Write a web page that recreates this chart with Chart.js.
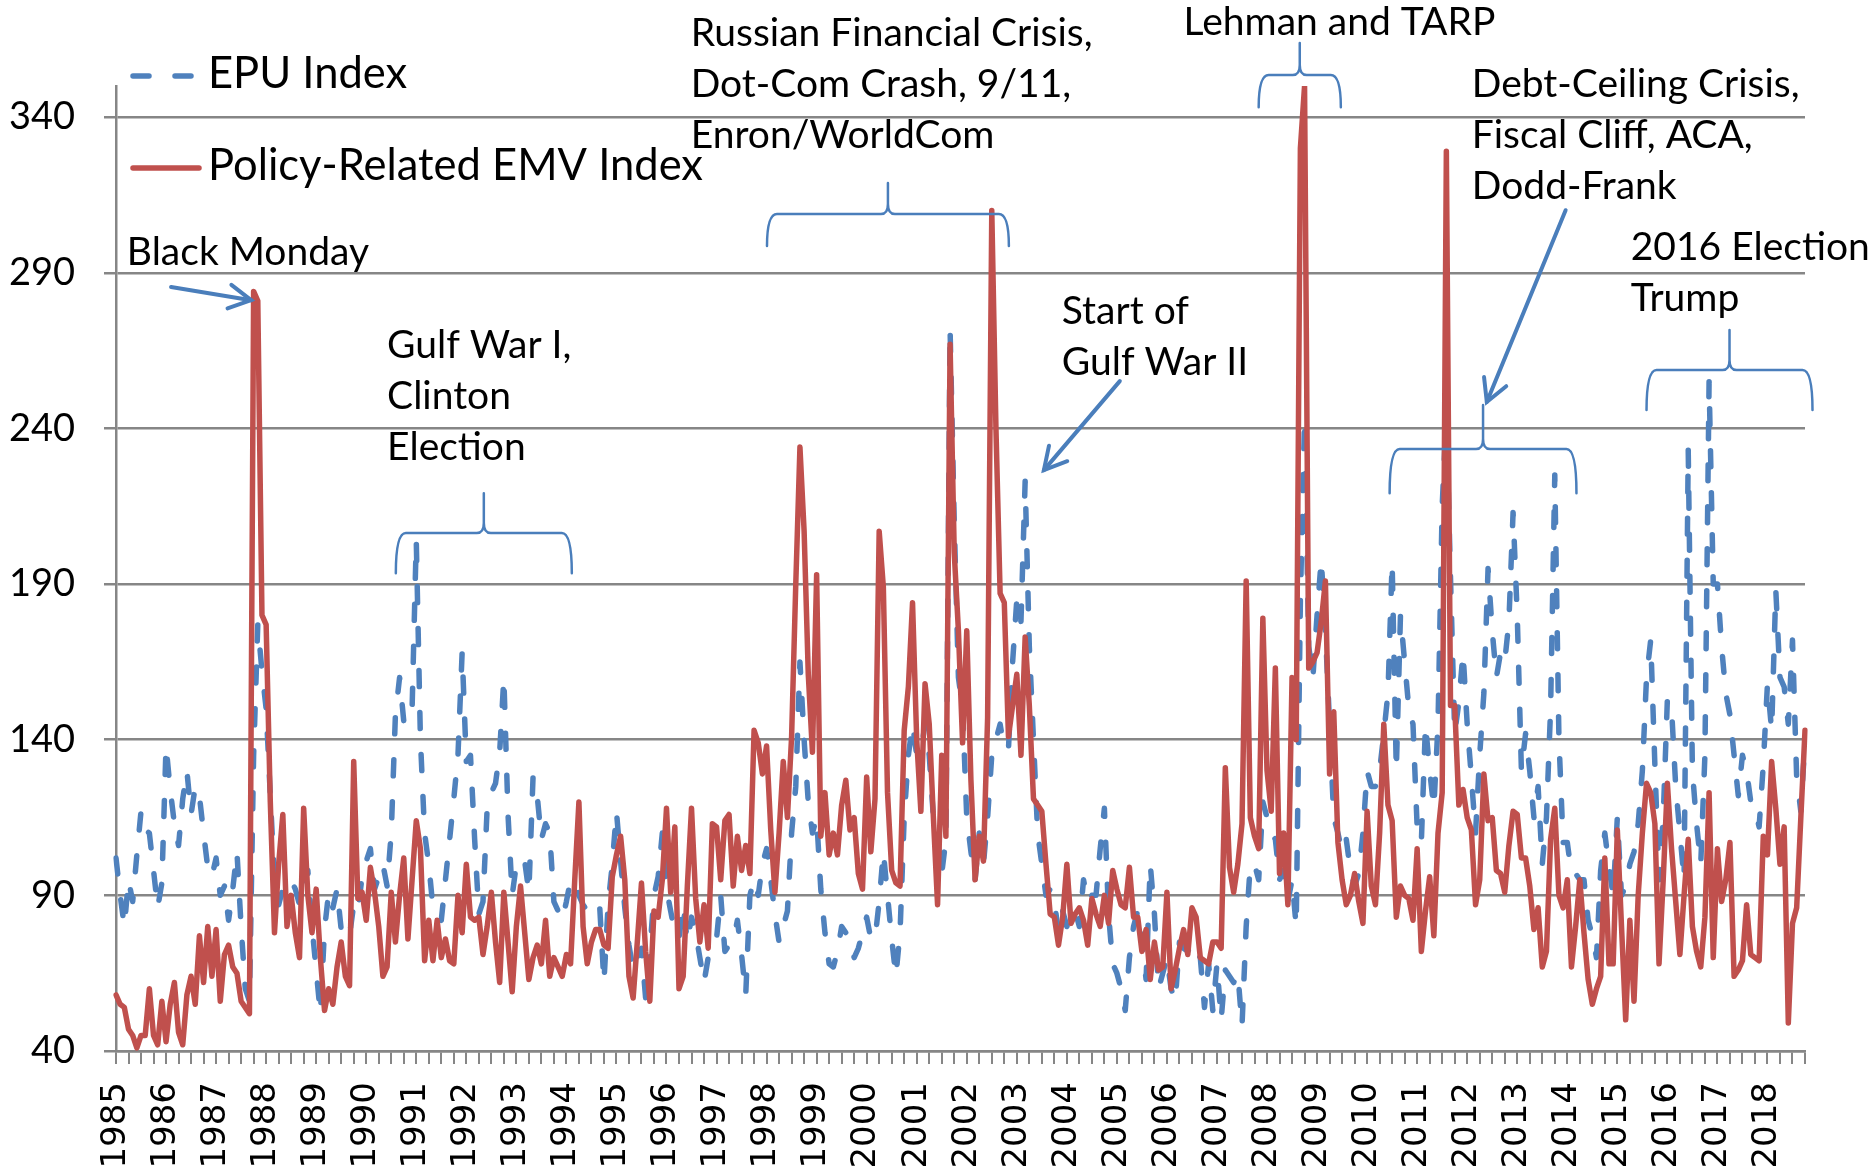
<!DOCTYPE html>
<html lang="en">
<head>
<meta charset="UTF-8">
<title>EPU Index and Policy-Related EMV Index</title>
<script src="https://cdn.jsdelivr.net/npm/chart.js@4.4.0/dist/chart.umd.min.js"></script>
<style>
  body { margin: 0; background: #fff; }
  canvas { display: block; }
</style>
</head>
<body>
<canvas id="chart" width="1868" height="1166"></canvas>
<script>
// monthly data, Jan 1985 .. Oct 2018
const years = [1985, 1986, 1987, 1988, 1989, 1990, 1991, 1992, 1993, 1994, 1995, 1996,
  1997, 1998, 1999, 2000, 2001, 2002, 2003, 2004, 2005, 2006, 2007, 2008, 2009, 2010,
  2011, 2012, 2013, 2014, 2015, 2016, 2017, 2018];
const lastMonth = 10;
const yTicks = [40, 90, 140, 190, 240, 290, 340];

const epu = [
  102, 90, 80, 95, 88, 103, 117, 111, 110, 98, 86, 94,
  138, 124, 113, 106, 121, 130, 116, 125, 122, 110, 99, 96,
  102, 90, 93, 82, 92, 104, 80, 60, 56, 135, 177, 162,
  150, 122, 95, 87, 92, 92, 95, 92, 87, 97, 98, 80,
  66, 52, 79, 91, 86, 92, 79, 80, 77, 87, 85, 96,
  101, 105, 92, 96, 100, 93, 110, 148, 160, 146, 145, 150,
  204, 140, 110, 100, 86, 84, 82, 95, 108, 121, 135, 168,
  133, 135, 108, 84, 88, 118, 123, 126, 136, 160, 116, 90,
  100, 102, 101, 91, 128, 122, 108, 113, 110, 88, 85, 82,
  88, 95, 94, 90, 87, 85, 87, 88, 86, 62, 87, 100,
  117, 101, 86, 74, 66, 70, 73, 57, 72, 90, 96, 110,
  92, 85, 78, 76, 87, 75, 83, 78, 70, 62, 70, 73,
  76, 90, 72, 74, 75, 82, 71, 58, 90, 95, 90, 100,
  105, 95, 84, 75, 80, 85, 110, 125, 165, 140, 120, 110,
  115, 92, 78, 68, 67, 72, 80, 78, 75, 70, 73, 78,
  83, 76, 76, 88, 104, 90, 76, 64, 78, 115, 135, 145,
  135, 136, 145, 135, 115, 108, 97, 108, 272, 210, 160, 150,
  115, 104, 95, 110, 100, 115, 135, 140, 145, 137, 137, 165,
  185, 178, 223, 170, 140, 110, 100, 90, 92, 88, 78, 85,
  80, 82, 85, 80, 95, 88, 90, 90, 105, 118, 84, 68,
  65, 60, 53, 70, 80, 85, 75, 63, 100, 84, 60, 65,
  70, 60, 56, 75, 73, 72, 75, 72, 70, 54, 68, 53,
  68, 50, 66, 64, 62, 65, 48, 80, 100, 100, 95, 120,
  115, 110, 108, 95, 98, 88, 95, 80, 185, 243, 170, 160,
  180, 198, 175, 145, 115, 110, 104, 108, 98, 93, 97, 110,
  130, 125, 125, 130, 142, 155, 197, 130, 180, 165, 150, 145,
  112, 107, 145, 130, 118, 145, 215, 245, 192, 142, 152, 168,
  145, 128, 110, 135, 155, 195, 175, 160, 168, 165, 178, 213,
  180, 130, 142, 130, 115, 125, 100, 115, 150, 225, 140, 107,
  107, 97, 97, 95, 95, 82, 77, 70, 98, 110, 99, 90,
  115, 90, 93, 100, 104, 113, 130, 160, 172, 132, 95, 115,
  153, 150, 125, 110, 95, 233, 130, 113, 100, 135, 255, 190,
  190, 170, 155, 148, 135, 122, 135, 130, 120, 118, 112, 132,
  158, 143, 188, 160, 157, 145, 172, 128, 117, 140
];

const emv = [
  58, 55, 54, 47, 45, 41, 45, 45, 60, 45, 42, 56,
  43, 55, 62, 46, 42, 58, 64, 55, 77, 62, 80, 64,
  79, 56, 71, 74, 67, 65, 56, 54, 52, 284, 281, 180,
  177, 120, 78, 100, 116, 80, 90, 78, 70, 118, 90, 78,
  92, 70, 53, 60, 55, 67, 75, 64, 61, 133, 89, 91,
  82, 99, 91, 80, 64, 67, 91, 75, 90, 102, 76, 95,
  114, 105, 69, 82, 69, 82, 70, 76, 69, 68, 90, 78,
  100, 83, 82, 83, 71, 80, 91, 75, 62, 91, 75, 59,
  80, 93, 78, 63, 70, 74, 68, 82, 64, 70, 67, 64,
  71, 68, 95, 120, 80, 68, 75, 79, 79, 74, 73, 96,
  103, 109, 95, 64, 57, 75, 94, 72, 56, 85, 83, 95,
  118, 91, 112, 60, 64, 93, 118, 89, 75, 87, 73, 113,
  112, 95, 114, 116, 93, 109, 98, 106, 97, 143, 139, 129,
  138, 111, 91, 110, 133, 115, 141, 190, 234, 207, 161, 136,
  193, 109, 123, 103, 110, 103, 119, 127, 111, 115, 97, 92,
  128, 104, 121, 207, 189, 123, 98, 94, 93, 143, 157, 184,
  140, 117, 158, 145, 115, 87, 135, 109, 267, 200, 175, 139,
  175, 127, 95, 109, 101, 147, 310, 240, 187, 184, 141, 151,
  161, 135, 173, 151, 121, 119, 117, 100, 84, 83, 74, 83,
  100, 81, 84, 86, 82, 74, 89, 84, 80, 90, 81, 98,
  92, 87, 86, 99, 83, 83, 72, 79, 63, 75, 66, 67,
  91, 60, 66, 73, 79, 71, 86, 83, 70, 69, 68, 75,
  75, 73, 131, 99, 91, 100, 113, 191, 115, 109, 105, 179,
  130, 117, 163, 97, 110, 87, 160, 140, 330, 350, 163, 165,
  168, 178, 191, 129, 149, 107, 95, 87, 90, 97, 88, 81,
  117, 93, 87, 110, 145, 119, 114, 83, 93, 90, 89, 82,
  105, 72, 85, 96, 77, 110, 123, 329, 151, 151, 119, 124,
  115, 111, 87, 95, 129, 114, 115, 98, 97, 91, 106, 117,
  116, 102, 102, 93, 79, 86, 67, 72, 108, 118, 90, 86,
  95, 67, 80, 95, 78, 63, 55, 60, 64, 102, 68, 68,
  111, 80, 50, 82, 56, 90, 110, 126, 123, 113, 68, 95,
  126, 105, 88, 71, 90, 108, 80, 72, 67, 83, 123, 70,
  105, 88, 95, 107, 64, 66, 69, 87, 71, 70, 69, 109,
  103, 133, 118, 100, 112, 49, 81, 86, 115, 143
];

// annotations, placed in data units: [month index, index value]
const notes = [
  { lines: ['Black Monday'], at: [2.6, 292.5] },
  { lines: ['Gulf War I,', 'Clinton', 'Election'], at: [65, 262.6] },
  { lines: ['Russian Financial Crisis,', 'Dot-Com Crash, 9/11,', 'Enron/WorldCom'], at: [137.8, 362.8] },
  { lines: ['Lehman and TARP'], at: [256, 366.4] },
  { lines: ['Start of', 'Gulf War II'], at: [226.8, 273.5] },
  { lines: ['Debt-Ceiling Crisis,', 'Fiscal Cliff, ACA,', 'Dodd-Frank'], at: [325.1, 346.5] },
  { lines: ['2016 Election,', 'Trump'], at: [363.2, 294.1] }
];
const arrows = [
  { from: [13.2, 285.4], to: [32.4, 281.2] },
  { from: [240.7, 255.2], to: [222.5, 226.6] },
  { from: [347.6, 310.1], to: [328.7, 248.5] }
];
const braces = [
  { from: 67.1, to: 109.3, bar: 206.4, tip: 219.2, end: 193.5 },
  { from: 156.1, to: 214.1, bar: 308.9, tip: 318.8, end: 298.6 },
  { from: 274.0, to: 293.7, bar: 353.5, tip: 363.8, end: 343.2 },
  { from: 305.4, to: 350.2, bar: 233.4, tip: 247.5, end: 219.2 },
  { from: 367.0, to: 406.8, bar: 258.8, tip: 271.6, end: 245.9 }
];

const months = [];
years.forEach(yr => {
  for (let mo = 1; mo <= 12; mo++) {
    if (yr < years[years.length - 1] || mo <= lastMonth) months.push(yr + '-' + mo);
  }
});

const BLUE = '#4f81bd', RED = '#c0504d', NOTE = '#4a7ebb', GRID = '#868686';

const notesPlugin = {
  id: 'notes',
  afterDraw(chart) {
    const { ctx, chartArea: ca, scales: { x, y } } = chart;
    const px = m => x.getPixelForValue(m);
    const py = v => y.getPixelForValue(v);
    ctx.save();

    // braces
    ctx.strokeStyle = NOTE;
    ctx.lineWidth = 2.5;
    ctx.lineCap = 'round';
    braces.forEach(b => {
      const x0 = px(b.from), x1 = px(b.to), xc = (x0 + x1) / 2;
      const yh = py(b.bar), yt = py(b.tip), ye = py(b.end);
      ctx.beginPath();
      ctx.moveTo(x0, ye);
      ctx.quadraticCurveTo(x0, yh, x0 + 10, yh);
      ctx.lineTo(xc - 7, yh);
      ctx.quadraticCurveTo(xc, yh, xc, yh - 10);
      ctx.lineTo(xc, yt);
      ctx.moveTo(xc, yh - 10);
      ctx.quadraticCurveTo(xc, yh, xc + 7, yh);
      ctx.lineTo(x1 - 10, yh);
      ctx.quadraticCurveTo(x1, yh, x1, ye);
      ctx.stroke();
    });

    // arrows
    ctx.lineWidth = 4;
    ctx.lineJoin = 'miter';
    arrows.forEach(a => {
      const x0 = px(a.from[0]), y0 = py(a.from[1]);
      const x1 = px(a.to[0]), y1 = py(a.to[1]);
      const ang = Math.atan2(y1 - y0, x1 - x0);
      ctx.beginPath();
      ctx.moveTo(x0, y0);
      ctx.lineTo(x1, y1);
      ctx.stroke();
      ctx.beginPath();
      ctx.moveTo(x1 - 25 * Math.cos(ang - 0.5), y1 - 25 * Math.sin(ang - 0.5));
      ctx.lineTo(x1, y1);
      ctx.lineTo(x1 - 25 * Math.cos(ang + 0.5), y1 - 25 * Math.sin(ang + 0.5));
      ctx.stroke();
    });

    // texts
    ctx.fillStyle = '#000';
    ctx.font = '39px Lato';
    ctx.textBaseline = 'alphabetic';
    ctx.textAlign = 'left';
    notes.forEach(n => {
      const tx = px(n.at[0]), ty = py(n.at[1]);
      n.lines.forEach((t, i) => ctx.fillText(t, tx, ty + i * 51));
    });

    // legend (sits inside the plot, top left)
    const lx = ca.left + 17;
    ctx.lineWidth = 5.5;
    ctx.lineCap = 'round';
    ctx.strokeStyle = BLUE;
    ctx.setLineDash([16, 26]);
    ctx.beginPath();
    ctx.moveTo(lx, ca.top - 10);
    ctx.lineTo(lx + 65, ca.top - 10);
    ctx.stroke();
    ctx.setLineDash([]);
    ctx.strokeStyle = RED;
    ctx.beginPath();
    ctx.moveTo(lx, ca.top + 82);
    ctx.lineTo(lx + 66, ca.top + 82);
    ctx.stroke();
    ctx.font = '43.5px Lato';
    ctx.fillText('EPU Index', lx + 75, ca.top + 2);
    ctx.fillText('Policy-Related EMV Index', lx + 75, ca.top + 94);
    ctx.restore();
  }
};

new Chart(document.getElementById('chart'), {
  type: 'line',
  data: {
    labels: months,
    datasets: [{
      label: 'EPU Index',
      data: epu,
      borderColor: BLUE,
      borderWidth: 5.5,
      borderDash: [16, 26],
      borderCapStyle: 'round',
      borderJoinStyle: 'round',
      pointRadius: 0,
      tension: 0,
      order: 1
    }, {
      label: 'Policy-Related EMV Index',
      data: emv,
      borderColor: RED,
      borderWidth: 5.5,
      borderCapStyle: 'round',
      borderJoinStyle: 'round',
      pointRadius: 0,
      tension: 0,
      order: 0
    }]
  },
  options: {
    responsive: false,
    animation: false,
    devicePixelRatio: 1,
    layout: { padding: { left: 0, right: 63, top: 86, bottom: 0 } },
    plugins: { legend: { display: false }, tooltip: { enabled: false } },
    scales: {
      x: {
        type: 'category',
        grid: { drawOnChartArea: false, color: GRID, lineWidth: 2, tickLength: 13 },
        border: { color: GRID, width: 2.5 },
        ticks: {
          autoSkip: false,
          maxRotation: 90,
          minRotation: 90,
          padding: 18,
          color: '#000',
          font: { family: 'DejaVu Sans', size: 34 },
          callback: (val, i) => i % 12 === 0 ? String(years[i / 12]) : (i % 3 === 0 ? '' : null)
        },
        afterFit(s) { s.height = 115; }
      },
      y: {
        min: 40,
        max: 350,
        afterBuildTicks(s) { s.ticks = yTicks.map(v => ({ value: v })); },
        grid: { color: GRID, lineWidth: 2.5, tickLength: 12 },
        border: { color: GRID, width: 2.5 },
        ticks: { padding: 29, color: '#000', font: { family: 'Lato', size: 38 } },
        afterFit(s) { s.width = 116; }
      }
    }
  },
  plugins: [notesPlugin]
});
</script>
</body>
</html>
